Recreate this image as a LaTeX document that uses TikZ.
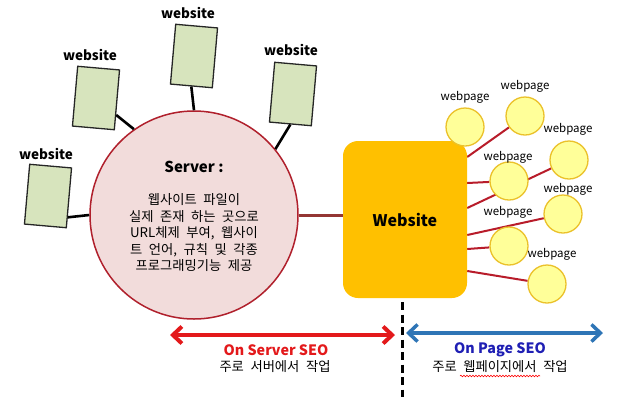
\documentclass[tikz,border=0pt]{standalone}
\usepackage{fontspec}
\setmainfont{Noto Sans CJK KR}
\newfontfamily\krfont[WordSpace=2.2]{Noto Sans CJK KR}
\usetikzlibrary{arrows.meta,backgrounds,decorations.pathmorphing}
\definecolor{sitegreen}{HTML}{D7E4BD}
\definecolor{srvfill}{HTML}{F2DCDB}
\definecolor{srvline}{HTML}{B0202C}
\definecolor{brownline}{HTML}{943634}
\definecolor{boxorange}{HTML}{FFC000}
\definecolor{pagefill}{HTML}{FFFF99}
\definecolor{pageline}{HTML}{EBC12A}
\definecolor{pageconn}{HTML}{B81C2A}
\definecolor{seored}{HTML}{E3191B}
\definecolor{seoblue}{HTML}{2E75B6}
\definecolor{txtblue}{HTML}{1F1FB4}
\tikzset{
  sitebox/.style={draw=black!85, line width=1.3pt, fill=sitegreen, minimum width=42pt, minimum height=60pt, inner sep=0pt, rotate=-5},
  sitelabel/.style={font=\fontsize{13.5}{15}\selectfont\bfseries, inner sep=0pt},
  pagenode/.style={circle, draw=pageline, line width=1.3pt, fill=pagefill, minimum size=38pt, inner sep=0pt},
  pagelabel/.style={font=\fontsize{11.5}{13}\selectfont, inner sep=0pt},
  blackconn/.style={line width=2.6pt, black},
  pconn/.style={line width=2pt, pageconn},
}
\begin{document}
\begin{tikzpicture}[x=1pt,y=-1pt]
\useasboundingbox (0,0) rectangle (618,408);
% server
\node[circle, draw=srvline, line width=1.5pt, fill=srvfill, minimum size=208pt, inner sep=0pt] (server) at (194,215) {};
\node[font=\fontsize{15}{17}\selectfont\bfseries, inner sep=0pt] (srvtitle) at (194,167) {Server :};
\node[font=\krfont\fontsize{13.3}{16.5}\selectfont, align=center, inner sep=0pt] (srvtext) at (194,233)
  {웹사이트 파일이\\실제 존재 하는 곳으로\\URL체제 부여, 웹사이\\트 언어, 규칙 및 각종\\프로그래밍기능 제공};
% websites
\node[sitebox] (w1) at (194,56) {};
\node[sitebox] (w2) at (96,98) {};
\node[sitebox] (w3) at (293,94) {};
\node[sitebox] (w4) at (48,196) {};
\node[sitelabel] (l1) at (188,13) {website};
\node[sitelabel] (l2) at (90,55) {website};
\node[sitelabel] (l3) at (291,50) {website};
\node[sitelabel] (l4) at (46,154) {website};
\draw[blackconn] (w1.south) -- (server.north);
\draw[blackconn] (w2.-35) -- (server.125);
\draw[blackconn] (w3.south) -- (server.39);
\draw[blackconn] (w4.-42) -- (server.west);
% website box
\node[draw=none, fill=boxorange, rounded corners=15pt, minimum width=124pt, minimum height=157pt, inner sep=0pt] (box) at (405,219.5) {};
\node[font=\fontsize{16}{18}\selectfont\bfseries, inner sep=0pt] (boxtext) at (405,220) {Website};
\draw[line width=3pt, draw=brownline] (server.east) -- (server.east -| box.west);
% webpages
\node[pagenode] (c1) at (465,127) {};
\node[pagenode] (c2) at (525,116) {};
\node[pagenode] (c3) at (569,160) {};
\node[pagenode] (c4) at (509,181) {};
\node[pagenode] (c5) at (563,214) {};
\node[pagenode] (c6) at (509,246) {};
\node[pagenode] (c7) at (547,284) {};
\node[pagelabel] (p1) at (465,97) {webpage};
\node[pagelabel] (p2) at (525,86) {webpage};
\node[pagelabel] (p3) at (568,129) {webpage};
\node[pagelabel] (p4) at (508,157) {webpage};
\node[pagelabel] (p5) at (568,189) {webpage};
\node[pagelabel] (p6) at (508,212) {webpage};
\node[pagelabel] (p7) at (552,254) {webpage};
\begin{scope}[on background layer]
\draw[pconn] ([yshift=62.5pt]box.east) -- (c2);
\draw[pconn] ([yshift=36.5pt]box.east) -- (c4);
\draw[pconn] ([yshift=11.5pt]box.east) -- (c3);
\draw[pconn] ([yshift=-15.5pt]box.east) -- (c5);
\draw[pconn] ([yshift=-29.5pt]box.east) -- (c6);
\draw[pconn] ([yshift=-51.5pt]box.east) -- (c7);
\end{scope}
% bottom
\coordinate (rs) at (170,335);
\coordinate (re) at (395,335);
\coordinate (bs) at (406,333);
\coordinate (be) at (603,333);
\coordinate (dtop) at (402,302);
\coordinate (dbot) at (402,397);
\draw[line width=4pt, seored, {Straight Barb[length=9pt,width=17pt,line width=4pt]}-{Straight Barb[length=9pt,width=17pt,line width=4pt]}] (rs) -- (re);
\draw[line width=3.5pt, seoblue, {Straight Barb[length=9pt,width=17pt,line width=3.5pt]}-{Straight Barb[length=9pt,width=17pt,line width=3.5pt]}] (bs) -- (be);
\draw[line width=3pt, black, dash pattern=on 8pt off 4.5pt] (dtop) -- (dbot);
\node[font=\fontsize{14.3}{16}\selectfont\bfseries, text=seored, inner sep=0pt] (t1) at (276,350) {On Server SEO};
\node[font=\krfont\fontsize{13.3}{15}\selectfont, inner sep=0pt] (t2) at (275,367) {주로 서버에서 작업};
\node[font=\fontsize{14.3}{16}\selectfont\bfseries, text=txtblue, inner sep=0pt] (t3) at (500,350) {On Page SEO};
\node[font=\krfont\fontsize{13.3}{15}\selectfont, inner sep=0pt] (t4) at (500,367) {주로 웹페이지에서 작업};
\coordinate (ws) at (460,376);
\coordinate (we) at (540,376);
\draw[red, line width=0.6pt, decorate, decoration={snake, amplitude=0.8pt, segment length=3pt}] (ws) -- (we);
\end{tikzpicture}
\end{document}
